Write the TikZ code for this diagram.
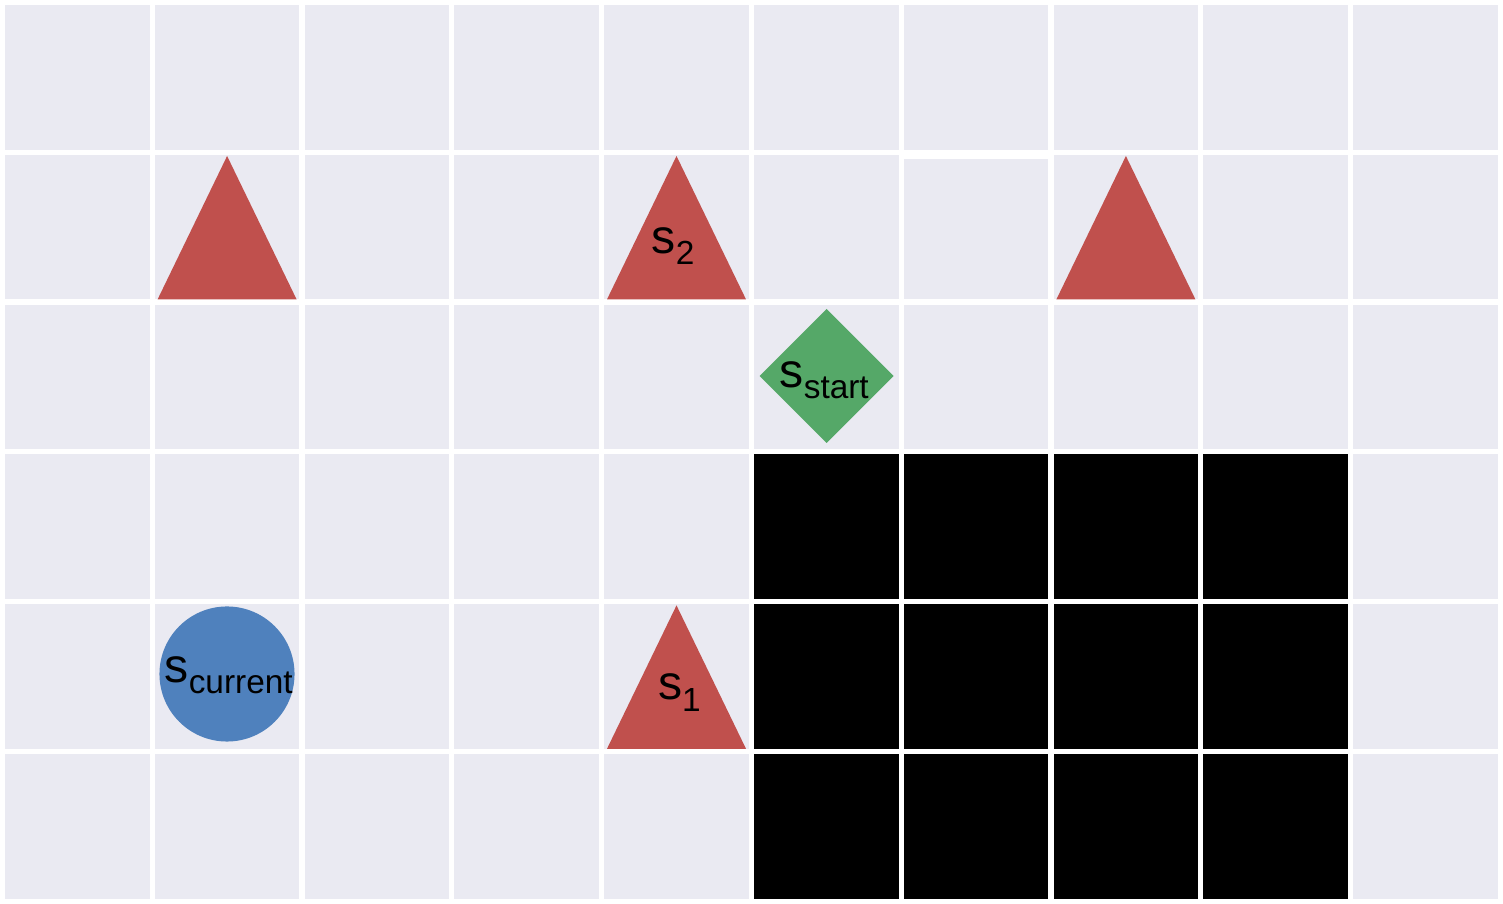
\documentclass[tikz,border=0pt]{standalone}
\usepackage{fontspec}
\setmainfont{Liberation Sans}
\definecolor{bgcell}{HTML}{EAEAF2}
\definecolor{trired}{HTML}{C0504D}
\definecolor{stgreen}{HTML}{55A868}
\definecolor{curblue}{HTML}{4F81BD}
% lowered, smaller subscript
\newcommand{\stsub}[1]{\raisebox{-0.11cm}{\fontsize{9.5pt}{11pt}\selectfont #1}}
\begin{document}
\begin{tikzpicture}[x=0.01cm, y=-0.01cm, font=\fontsize{13.7pt}{16pt}\selectfont,
          cell/.style={fill=bgcell},
          wall/.style={fill=black},
          tri/.style={fill=trired},
          lbl/.style={anchor=base west, inner sep=0pt}]
        \fill[white] (0,0) rectangle (1503,904);
        \useasboundingbox (0,0) rectangle (1503,904);
        \foreach \i in {0,...,9} {
          \foreach \j in {0,...,5} {
            \fill[cell] ({5+149.8*\i},{5+149.8*\j}) rectangle +(144.6,144.6);
          }
        }
        \fill[white] (903.8,154.8) rectangle (1048.4,159);
        \foreach \i in {5,...,8} {
          \foreach \j in {3,4,5} {
            \fill[wall] ({5+149.8*\i},{5+149.8*\j}) rectangle +(144.6,144.6);
          }
        }
        \foreach \i/\j in {1/1,4/1,7/1,4/4} {
          \fill[tri] ({77.3+149.8*\i},{6.2+149.8*\j}) -- ++(69.5,143.4) -- ++(-139,0) -- cycle;
        }
        \fill[stgreen] (826.5,309) -- (893.5,376) -- (826.5,443) -- (759.5,376) -- cycle;
        \fill[curblue] (227,674) circle[radius=0.675cm];
        \node[lbl] (s2) at (651,253.3) {s\stsub{2}};
        \node[lbl] (s1) at (657.3,700) {s\stsub{1}};
        \node[lbl] (sstart) at (779,388) {s\stsub{start}};
        \node[lbl] (scur) at (164,682.7) {s\stsub{current}};
      \end{tikzpicture}
\end{document}
